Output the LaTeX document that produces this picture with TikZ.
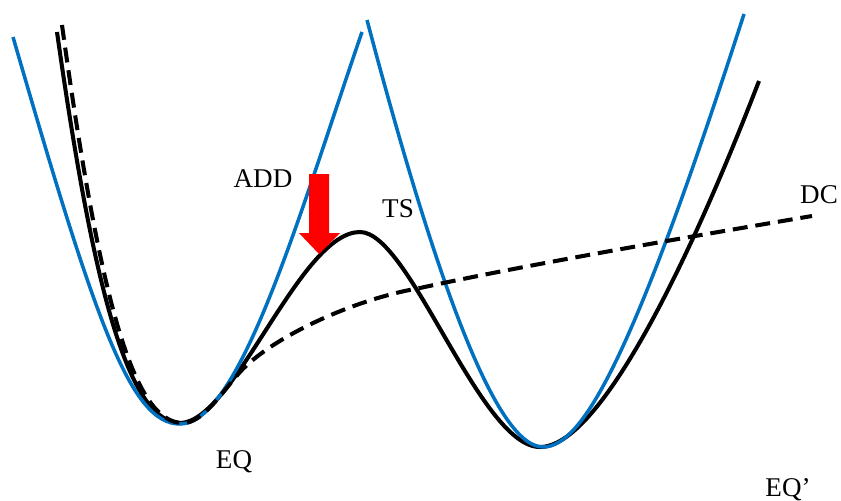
\documentclass[tikz,border=0pt]{standalone}
\usepackage{fontspec}
\setmainfont{Liberation Serif}
\definecolor{wellblue}{RGB}{0,112,192}
\begin{document}
\begin{tikzpicture}[x=0.02cm, y=-0.02cm,
    lbl/.style={anchor=base, inner sep=0pt, font=\fontsize{15.4}{18}\selectfont},
    diabat/.style={wellblue, line width=2pt},
    adiabat/.style={black, line width=2.3pt},
    dccurve/.style={black, line width=2.3pt, dash pattern=on 8.5pt off 4.5pt}]
    \useasboundingbox (0,0) rectangle (841,500);

    % 1. Adiabatic curve: EQ -> TS -> EQ'
    \draw[adiabat] (57,32) .. controls (95,300) and (130,423) .. (181,423)
        .. controls (235,420) and (300,232) .. (360,232)
        .. controls (410,232) and (480,447) .. (540,447)
        .. controls (600,447) and (690,260) .. (759,81);

    % 2. Diabatic wells
    \draw[diabat] (13,37) .. controls (95,320) and (130,424) .. (180,424)
        .. controls (240,424) and (300,212) .. (362,32);
    \draw[diabat] (367,20) .. controls (428,250) and (492,447) .. (543,447)
        .. controls (583,447) and (634,355) .. (744,14);

    % 3. Dashed curve DC
    \draw[dccurve] (62,25) .. controls (100,300) and (133,423) .. (183,423)
        .. controls (203,423) and (222,392) .. (240,372)
        .. controls (270,339) and (350,300) .. (420,288)
        .. controls (530,264) and (700,235) .. (812,216);

    % 4. Red arrow
    \fill[red] (309,174) -- (329,174) -- (329,233) -- (340,233)
        -- (319,254) -- (299,233) -- (309,233) -- cycle;

    % 5. Labels
    \node[lbl] (add) at (263,187) {ADD};
    \node[lbl] (ts) at (398,217) {TS};
    \node[lbl] (dc) at (819,203) {DC};
    \node[lbl] (eq) at (234,468) {EQ};
    \node[lbl] (eqp) at (788,496) {EQ’};
\end{tikzpicture}
\end{document}
